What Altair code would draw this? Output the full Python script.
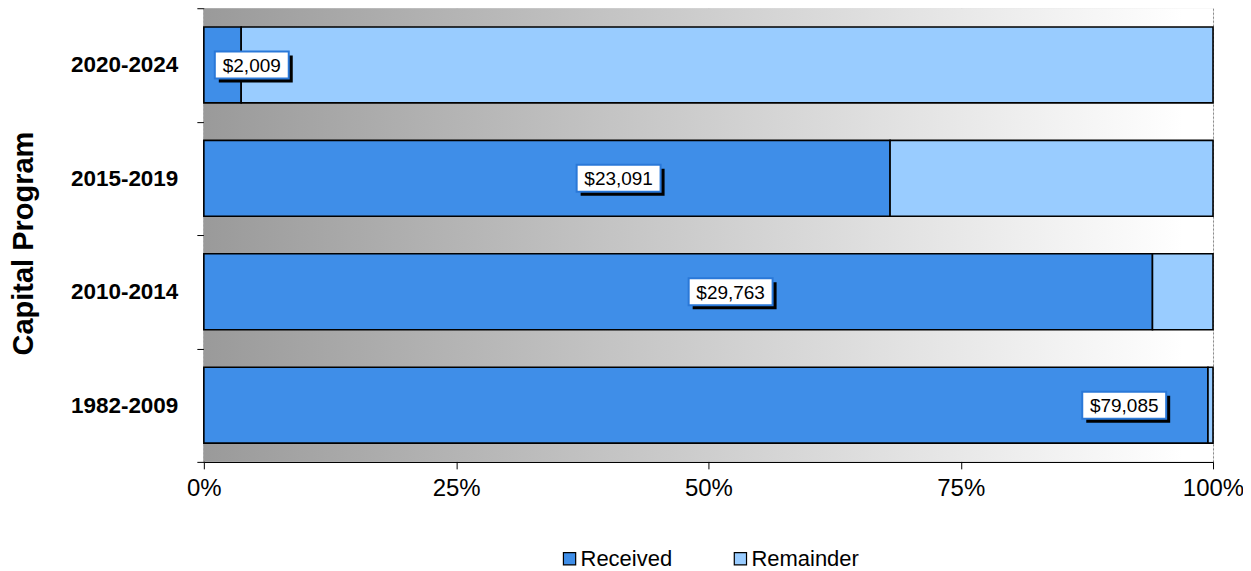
import altair as alt
import pandas as pd

programs = ["2020-2024", "2015-2019", "2010-2014", "1982-2009"]
received_pct = [3.7, 68.0, 94.0, 99.5]
label_text = ["$2,009", "$23,091", "$29,763", "$79,085"]
label_pos = [4.75, 41.1, 52.2, 91.2]
series = ["Received", "Remainder"]
x_ticks = [0, 25, 50, 75, 100]

FONT = "Liberation Sans"

rows = []
for p, r in zip(programs, received_pct):
    rows.append({"program": p, "series": "Received", "k": 0, "value": r})
    rows.append({"program": p, "series": "Remainder", "k": 1, "value": round(100 - r, 2)})
bars_df = pd.DataFrame(rows)
labels_df = pd.DataFrame({"program": programs, "label": label_text, "pos": label_pos})
bg_df = pd.DataFrame({"a": [0]})

W, H = 1010, 454
BAR_H = 76

y_enc = alt.Y(
    "program:N",
    sort=programs,
    scale=alt.Scale(paddingInner=0, paddingOuter=0),
    axis=alt.Axis(
        title="Capital Program",
        titleFont=FONT, titleFontSize=29, titleFontWeight="bold", titleColor="black",
        titlePadding=32, titleY=235,
        labelFont=FONT, labelFontSize=22.5, labelFontWeight="bold", labelColor="black",
        labelPadding=19, tickSize=7, tickColor="black", tickBand="extent",
        domainColor="black", domainWidth=1.2, grid=False,
    ),
)

x_scale = alt.Scale(domain=[0, 100], nice=False, zero=True)
x_axis = alt.Axis(
    values=x_ticks, labelExpr="datum.value + '%'", title=None, labelFlush=False,
    labelFont=FONT, labelFontSize=24, labelColor="black", labelPadding=8,
    tickSize=7, tickColor="black", domainColor="black", domainWidth=1.2,
    grid=True, gridColor="#888888", gridDash=[2, 2], gridWidth=1,
)

grad = alt.LinearGradient(
    gradient="linear",
    stops=[alt.GradientStop(color="#9a9a9a", offset=0),
           alt.GradientStop(color="#ffffff", offset=0.97)],
    x1=0, x2=1, y1=0, y2=0,
)

background = alt.Chart(bg_df).mark_rect(fill=grad, strokeWidth=0).encode(
    x=alt.value(0), x2=alt.value(W), y=alt.value(0), y2=alt.value(H)
)

bars = alt.Chart(bars_df).mark_bar(stroke="black", strokeWidth=1.6, height=BAR_H).encode(
    x=alt.X("value:Q", stack="zero", scale=x_scale, axis=x_axis),
    y=y_enc,
    order=alt.Order("k:Q"),
    color=alt.Color(
        "series:N",
        scale=alt.Scale(domain=series, range=["#3f8ee8", "#99ccff"]),
        legend=alt.Legend(
            title=None, orient="none", direction="horizontal",
            legendX=355, legendY=540,
            labelFont=FONT, labelFontSize=22, labelColor="black",
            symbolType="square", symbolSize=150, symbolStrokeColor="black",
            symbolStrokeWidth=1.2, labelOffset=0, columnPadding=57,
        ),
    ),
)

base_lbl = alt.Chart(labels_df).encode(x=alt.X("pos:Q", scale=x_scale), y=alt.Y("program:N", sort=programs))

short = "length(datum.label) <= 6"
long_ = "length(datum.label) > 6"

shadow_s = base_lbl.transform_filter(short).mark_rect(width=74, height=27, fill="black", xOffset=4, yOffset=4)
shadow_l = base_lbl.transform_filter(long_).mark_rect(width=84, height=27, fill="black", xOffset=4, yOffset=4)
box_s = base_lbl.transform_filter(short).mark_rect(width=74, height=27, fill="white", stroke="#2a78d8", strokeWidth=2)
box_l = base_lbl.transform_filter(long_).mark_rect(width=84, height=27, fill="white", stroke="#2a78d8", strokeWidth=2)
text = base_lbl.mark_text(font=FONT, fontSize=19, color="black", align="center", baseline="middle", dy=1).encode(
    text="label:N"
)

chart = alt.layer(background, bars, shadow_s, shadow_l, box_s, box_l, text).properties(
    width=W, height=H,
    autosize=alt.AutoSizeParams(type="none"),
    padding={"left": 196, "top": 0, "right": 30, "bottom": 108},
).configure_view(stroke="#888888", strokeWidth=1).configure(background="white")

chart.save("out.html", embed_options={"renderer": "svg", "actions": False})
